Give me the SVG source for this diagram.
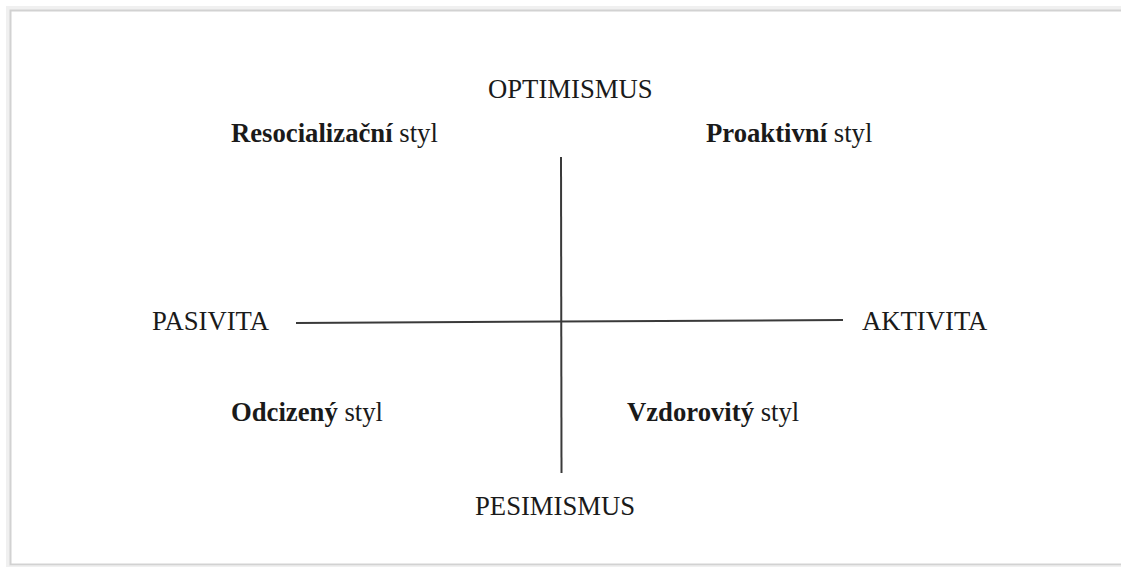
<svg xmlns="http://www.w3.org/2000/svg" width="1121" height="567" viewBox="0 0 1121 567">
<style>
.t{font-family:"Liberation Serif","Times New Roman",serif;font-size:26.7px;fill:#1a1a1a}
.b{font-weight:bold}
.ax{stroke:#3a3a3a;stroke-width:2;fill:none}
</style>
<rect x="0" y="0" width="1121" height="567" fill="#ffffff"/>
<g id="frame">
<rect x="8" y="8" width="1120" height="560" fill="none" stroke="#f0f0f0" stroke-width="4"/>
<rect x="10.5" y="10.5" width="1120" height="554" fill="#ffffff" stroke="#d2d2d2" stroke-width="2"/>
</g>
<g id="connectors">
<line class="ax" x1="296" y1="323" x2="843" y2="320"/>
<line class="ax" x1="561" y1="157" x2="561.5" y2="473"/>
</g>
<g id="optimismus"><text class="t" x="488" y="98">OPTIMISMUS</text></g>
<g id="pesimismus"><text class="t" x="475" y="515">PESIMISMUS</text></g>
<g id="pasivita"><text class="t" x="152" y="330">PASIVITA</text></g>
<g id="aktivita"><text class="t" x="862" y="330">AKTIVITA</text></g>
<g id="resocializacni"><text class="t" x="231" y="142"><tspan class="b">Resocializační</tspan> styl</text></g>
<g id="proaktivni"><text class="t" x="706" y="142"><tspan class="b">Proaktivní</tspan> styl</text></g>
<g id="odcizeny"><text class="t" x="231" y="421"><tspan class="b">Odcizený</tspan> styl</text></g>
<g id="vzdorovity"><text class="t" x="627" y="421"><tspan class="b">Vzdorovitý</tspan> styl</text></g>
</svg>
